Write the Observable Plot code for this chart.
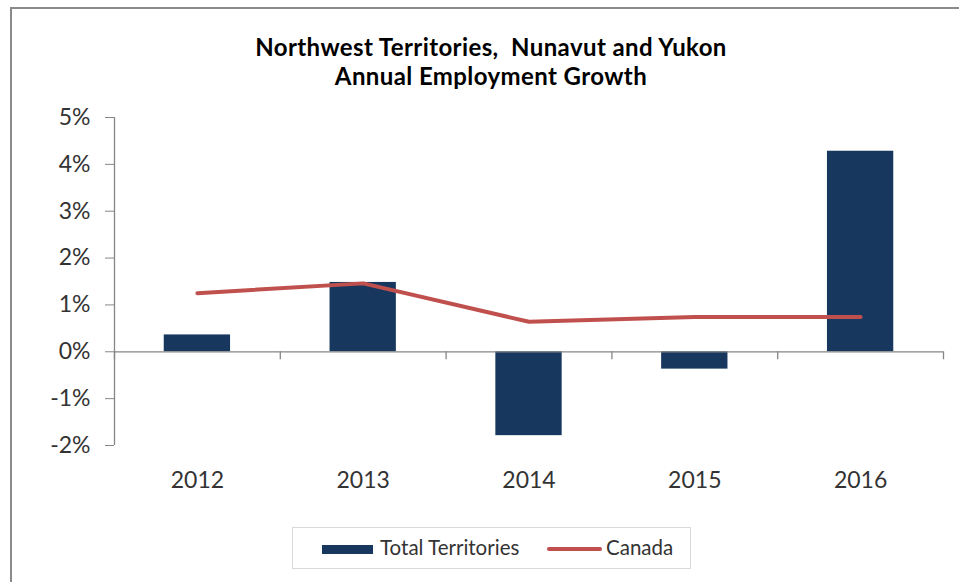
<!DOCTYPE html>
<html><head><meta charset="utf-8">
<script src="https://cdn.jsdelivr.net/npm/d3@7"></script>
<script src="https://cdn.jsdelivr.net/npm/@observablehq/plot@0.6"></script>
<style>
body{margin:0;background:#fff;}
#wrap{position:relative;width:959px;height:582px;overflow:hidden;background:#fff;font-family:Lato,sans-serif;}
#frame{position:absolute;left:10px;top:7px;width:1200px;height:1000px;border-left:2px solid #8a8a8a;border-top:2px solid #8a8a8a;}
#title{position:absolute;left:0;width:982px;top:32px;text-align:center;font-weight:bold;font-size:24px;letter-spacing:0.4px;line-height:29px;color:#000;}
#chart{position:absolute;left:0;top:100px;}
#legendbox{position:absolute;left:292px;top:527px;width:397px;height:40px;border:1px solid #d9d9d9;}
.lg{position:absolute;font-size:20.5px;line-height:20px;color:#333;white-space:nowrap;}
</style>
</head><body>
<div id="wrap">
  <div id="frame"></div>
  <div id="title">Northwest Territories,&nbsp; Nunavut and Yukon<br>Annual Employment Growth</div>
  <div id="chart"></div>
  <div id="legendbox"></div>
  <div id="sw1" style="position:absolute;left:322px;top:545px;width:51px;height:9px;background:#17375e;"></div>
  <div class="lg" id="lt1" style="left:380px;top:537px;">Total Territories</div>
  <div id="sw2" style="position:absolute;left:547px;top:547px;width:55px;height:4px;border-radius:2px;background:#c0504d;"></div>
  <div class="lg" id="lt2" style="left:606px;top:537px;">Canada</div>
</div>
<script>
const years = [2012, 2013, 2014, 2015, 2016];
const territories = [0.36, 1.48, -1.79, -0.37, 4.28];
const canada = [1.25, 1.46, 0.64, 0.74, 0.74];
const yTicks = [-2, -1, 0, 1, 2, 3, 4, 5];

const bars = years.map((year, i) => ({year, value: territories[i]}));
const line = years.map((year, i) => ({year, value: canada[i]}));
const bounds = d3.range(years.length + 1).map(i => years[0] - 0.5 + i);

const chart = Plot.plot({
  width: 959, height: 400,
  marginTop: 17, marginBottom: 55, marginLeft: 114, marginRight: 16,
  style: {fontFamily: "Lato, sans-serif", fontSize: "23px", color: "#333", background: "transparent", overflow: "visible"},
  x: {type: "linear", domain: [bounds[0], bounds[bounds.length - 1]]},
  y: {domain: [yTicks[0], yTicks[yTicks.length - 1]]},
  marks: [
    Plot.axisY({ticks: yTicks, tickSize: 9, tickPadding: 15, tickFormat: d => d + "%", stroke: "#868686", fill: "#333", label: null}),
    Plot.axisX({ticks: years, tickSize: 0, tickPadding: 26, tickFormat: d => String(d), fill: "#333", label: null}),
    Plot.ruleX([bounds[0]], {stroke: "#868686", strokeWidth: 1.3}),
    Plot.rect(bars, {x1: d => d.year - 0.2, x2: d => d.year + 0.2, y1: 0, y2: "value", fill: "#17375e"}),
    Plot.ruleY([0], {stroke: "#868686", strokeWidth: 1.3}),
    Plot.ruleX(bounds, {x: d => d, y1: 0, y2: 0, insetBottom: -8, stroke: "#868686", strokeWidth: 1.3}),
    Plot.line(line, {x: "year", y: "value", stroke: "#c0504d", strokeWidth: 4, strokeLinecap: "round", strokeLinejoin: "round"})
  ]
});
document.getElementById("chart").appendChild(chart);
</script>
</body></html>
